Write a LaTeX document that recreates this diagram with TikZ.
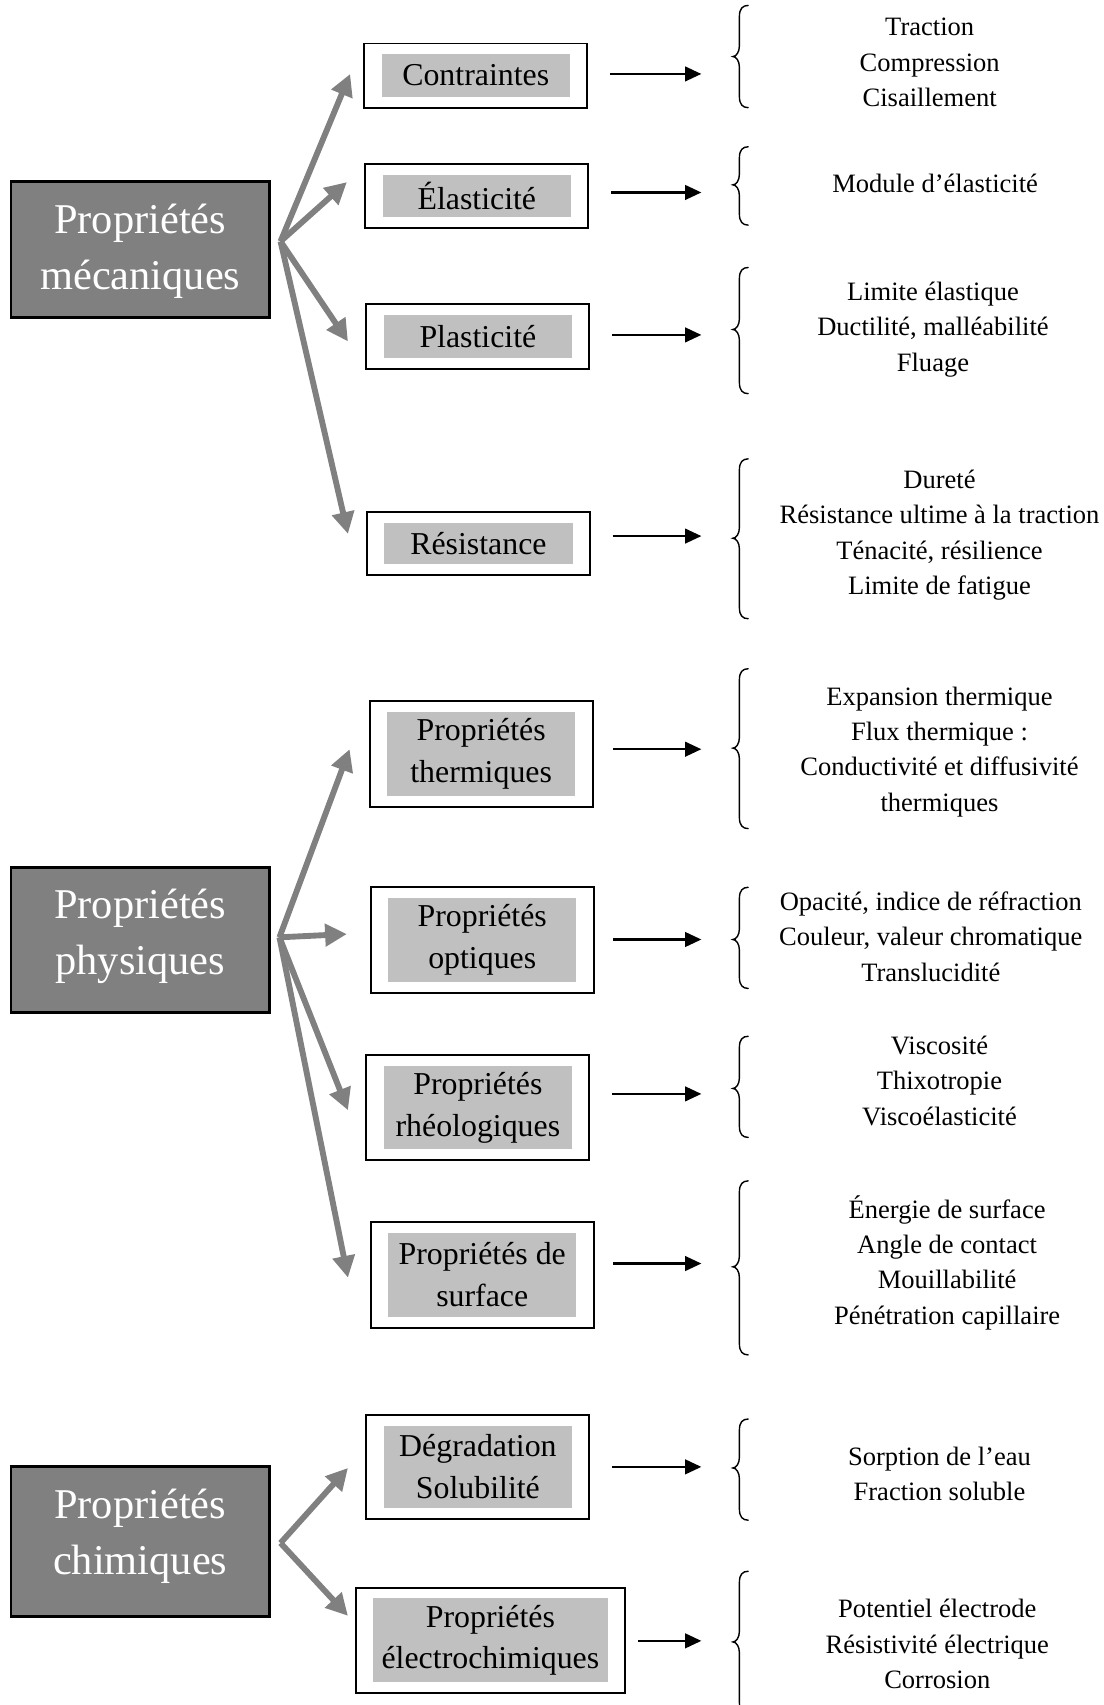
\documentclass[tikz,border=0pt]{standalone}
\usepackage{fontspec}
\setmainfont{Liberation Serif}
\usetikzlibrary{arrows.meta,calc}
\definecolor{darkbox}{RGB}{128,128,128}
\definecolor{lightbox}{RGB}{192,192,192}
\definecolor{arrgray}{RGB}{128,128,128}
\newcommand\mybrace[4]{%
  \draw[bracestyle] (#1+14,#2) .. controls (#1+9,#2) and (#1+6,#2+3) .. (#1+6,#2+10)
    -- (#1+6,#3-10) .. controls (#1+6,#3-4) and (#1+3,#3) .. (#1,#3)
    .. controls (#1+3,#3) and (#1+6,#3+4) .. (#1+6,#3+10)
    -- (#1+6,#4-10) .. controls (#1+6,#4-3) and (#1+9,#4) .. (#1+14,#4);}
\begin{document}
\begin{tikzpicture}[x=1pt,y=-1pt,
  bigbox/.style={draw=black, fill=darkbox, line width=2.4pt, inner sep=0pt},
  bigtext/.style={text=white, font=\fontsize{39}{52}\selectfont, align=center, inner sep=0pt},
  outerbox/.style={draw=black, line width=1.8pt, fill=white, inner sep=0pt},
  innerbox/.style={fill=lightbox, inner sep=0pt, font=\fontsize{29.3}{38.5}\selectfont, align=center},
  listtext/.style={font=\fontsize{24.4}{32.5}\selectfont, align=center, inner sep=0pt},
  grayarrow/.style={draw=arrgray, line width=5.4pt, -{Triangle[length=20pt,width=20pt]}},
  blackarrow/.style={draw=black, line width=2pt, -{Triangle[length=15pt,width=13.5pt]}},
  bracestyle/.style={draw=black, line width=1.3pt, line cap=round},
]
\useasboundingbox (0,0) rectangle (1015,1568);

% ---------- big boxes ----------
\node[bigbox, minimum width=238pt, minimum height=125pt] (mec) at (129,229.5) {};
\node[bigtext] (mect) at (129,231) {Propriétés\\mécaniques};
\node[bigbox, minimum width=238pt, minimum height=133pt] (phy) at (129,864.5) {};
\node[bigtext] (phyt) at (129,861) {Propriétés\\physiques};
\node[bigbox, minimum width=238pt, minimum height=138pt] (chi) at (129,1417.5) {};
\node[bigtext] (chit) at (129,1413) {Propriétés\\chimiques};

% ---------- small boxes ----------
\node[outerbox, minimum width=205pt, minimum height=59pt] (c1) at (437.5,69.5) {};
\node[innerbox, minimum width=173pt, minimum height=39pt] (c1i) at (c1) {Contraintes};
\node[outerbox, minimum width=205pt, minimum height=59pt] (c2) at (438.5,180.5) {};
\node[innerbox, minimum width=173pt, minimum height=39pt] (c2i) at (c2) {Élasticité};
\node[outerbox, minimum width=205pt, minimum height=59pt] (c3) at (439.5,309.5) {};
\node[innerbox, minimum width=173pt, minimum height=39pt] (c3i) at (c3) {Plasticité};
\node[outerbox, minimum width=205pt, minimum height=58pt] (c4) at (440,500) {};
\node[innerbox, minimum width=173pt, minimum height=38pt] (c4i) at (c4) {Résistance};

\node[outerbox, minimum width=205pt, minimum height=97pt] (p1) at (442.5,693.5) {};
\node[innerbox, minimum width=173pt, minimum height=77pt] (p1i) at (p1) {Propriétés\\thermiques};
\node[outerbox, minimum width=205pt, minimum height=97pt] (p2) at (443.5,864.5) {};
\node[innerbox, minimum width=173pt, minimum height=77pt] (p2i) at (p2) {Propriétés\\optiques};
\node[outerbox, minimum width=205pt, minimum height=97pt] (p3) at (439.5,1018.5) {};
\node[innerbox, minimum width=173pt, minimum height=77pt] (p3i) at (p3) {Propriétés\\rhéologiques};
\node[outerbox, minimum width=205pt, minimum height=97pt] (p4) at (443.5,1172.5) {};
\node[innerbox, minimum width=173pt, minimum height=77pt] (p4i) at (p4) {Propriétés de\\surface};

\node[outerbox, minimum width=205pt, minimum height=96pt] (q1) at (439.5,1349) {};
\node[innerbox, minimum width=173pt, minimum height=76pt] (q1i) at (q1) {Dégradation\\Solubilité};
\node[outerbox, minimum width=248pt, minimum height=97pt] (q2) at (451,1508.5) {};
\node[innerbox, minimum width=216pt, minimum height=77pt] (q2i) at (q2) {Propriétés\\électrochimiques};

% ---------- gray arrows ----------
\coordinate (om) at (258,222);
\coordinate (tc1) at (322,68);
\coordinate (tc2) at (319,167.5);
\coordinate (tc3) at (320,314);
\coordinate (tc4) at (320,491);
\foreach \t in {tc1,tc2,tc3,tc4} \draw[grayarrow] (om) -- (\t);

\coordinate (op) at (257,862);
\coordinate (tp1) at (321.5,689);
\coordinate (tp2) at (319,859);
\coordinate (tp3) at (320,1021);
\coordinate (tp4) at (320,1175);
\foreach \t in {tp1,tp2,tp3,tp4} \draw[grayarrow] (op) -- (\t);

\coordinate (oq) at (258,1419);
\coordinate (tq1) at (320,1350);
\coordinate (tq2) at (320,1486);
\foreach \t in {tq1,tq2} \draw[grayarrow] (oq) -- (\t);

% ---------- black arrows ----------
\coordinate (e1) at (645,68);
\coordinate (e2) at (645,177);
\coordinate (e3) at (645,308);
\coordinate (e4) at (645,493);
\coordinate (e5) at (645,689);
\coordinate (e6) at (645,864);
\coordinate (e7) at (645,1006);
\coordinate (e8) at (645,1162);
\coordinate (e9) at (645,1349);
\coordinate (e10) at (645,1509);
\draw[blackarrow, shorten <=20pt] (c1.east |- e1) -- (e1);
\draw[blackarrow, shorten <=20pt] (c2.east |- e2) -- (e2);
\draw[blackarrow, shorten <=20pt] (c3.east |- e3) -- (e3);
\draw[blackarrow, shorten <=20pt] (c4.east |- e4) -- (e4);
\draw[blackarrow, shorten <=18pt] (p1.east |- e5) -- (e5);
\draw[blackarrow, shorten <=17pt] (p2.east |- e6) -- (e6);
\draw[blackarrow, shorten <=20pt] (p3.east |- e7) -- (e7);
\draw[blackarrow, shorten <=17pt] (p4.east |- e8) -- (e8);
\draw[blackarrow, shorten <=20pt] (q1.east |- e9) -- (e9);
\draw[blackarrow, shorten <=11pt] (q2.east |- e10) -- (e10);

% ---------- braces ----------
\mybrace{674}{5}{52}{99}
\mybrace{674}{135}{170}{207}
\mybrace{674}{246}{303}{362}
\mybrace{674}{422}{495}{569}
\mybrace{674}{615}{688}{762}
\mybrace{674}{816}{864}{909}
\mybrace{674}{953}{1001}{1046}
\mybrace{674}{1086}{1165}{1246}
\mybrace{674}{1305}{1350}{1398}
\mybrace{674}{1445}{1510}{1576}

% ---------- lists ----------
\node[listtext] (l1) at (855,57.5) {Traction\\Compression\\Cisaillement};
\node[listtext] (l2) at (860,169) {Module d’élasticité};
\node[listtext] (l3) at (858,303) {Limite élastique\\Ductilité, malléabilité\\Fluage};
\node[listtext] (l4) at (864,492) {Dureté\\Résistance ultime à la traction\\Ténacité, résilience\\Limite de fatigue};
\node[listtext] (l5) at (864,691.5) {Expansion thermique\\Flux thermique :\\Conductivité et diffusivité\\thermiques};
\node[listtext] (l6) at (856,861.5) {Opacité, indice de réfraction\\Couleur, valeur chromatique\\Translucidité};
\node[listtext] (l7) at (864,994) {Viscosité\\Thixotropie\\Viscoélasticité};
\node[listtext] (l8) at (871,1161) {Énergie de surface\\Angle de contact\\Mouillabilité\\Pénétration capillaire};
\node[listtext] (l9) at (864,1355.5) {Sorption de l’eau\\Fraction soluble};
\node[listtext] (l10) at (862,1512) {Potentiel électrode\\Résistivité électrique\\Corrosion};
\end{tikzpicture}
\end{document}
